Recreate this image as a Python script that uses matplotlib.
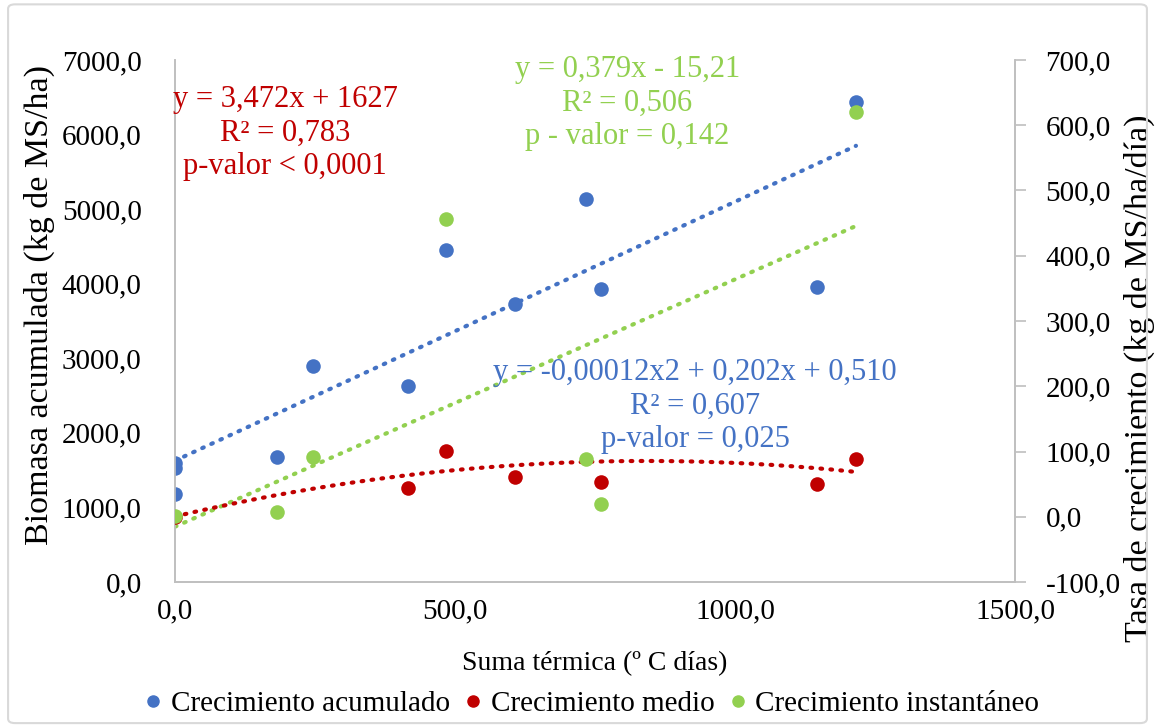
import numpy as np
import matplotlib
matplotlib.use("Agg")
import matplotlib.pyplot as plt
from matplotlib.ticker import FuncFormatter, MultipleLocator
from matplotlib.patches import FancyBboxPatch

plt.rcParams['font.family'] = ['Liberation Serif', 'DejaVu Serif']

# -------------------------
# Data
# -------------------------
# Crecimiento acumulado (left axis, kg de MS/ha)
x_acum = [0, 0, 0, 182, 246, 416, 484, 607, 734, 761, 1146, 1216]
y_acum = [1590, 1530, 1180, 1676, 2897, 2628, 4452, 3728, 5136, 3929, 3956, 6437]

# Crecimiento medio (right axis, kg de MS/ha/dia)
x_medio = [0, 416, 484, 607, 761, 1146, 1216]
y_medio = [0, 44, 101, 61, 53, 50, 88]

# Crecimiento instantaneo (right axis)
x_inst = [0, 182, 246, 484, 734, 761, 1216]
y_inst = [1, 7, 92, 456, 88, 20, 621]

# trend equations printed on the chart
lin_acum = (3.472, 1627)
lin_inst = (0.379, -15.21)
quad_medio = (-0.00012, 0.202, 0.510)

BLUE = '#4472C4'
RED = '#C00000'
GREEN = '#92D050'
GRAY = '#BFBFBF'
FS = 21


def coma(v, pos=None):
    return f"{v:.1f}".replace('.', ',')


fig = plt.figure(figsize=(11.55, 7.26), dpi=100)
ax = fig.add_axes([0.1515, 0.1983, 0.7273, 0.7191])
ax2 = ax.twinx()

# points
ax.scatter(x_acum, y_acum, s=110, color=BLUE, zorder=3, linewidths=0)
ax2.scatter(x_medio, y_medio, s=110, color=RED, zorder=3, linewidths=0)
ax2.scatter(x_inst, y_inst, s=110, color=GREEN, zorder=4, linewidths=0)

# trend lines
xt = np.linspace(0, max(x_acum), 200)
dots = dict(linestyle=(0, (0.4, 2.0)), linewidth=3.0, dash_capstyle='round')
ax.plot(xt, lin_acum[0] * xt + lin_acum[1], color=BLUE, zorder=2, **dots)
ax2.plot(xt, lin_inst[0] * xt + lin_inst[1], color=GREEN, zorder=2, **dots)
ax2.plot(xt, np.polyval(quad_medio, xt), color=RED, zorder=2, **dots)

# axes
ax.set_xlim(0, 1500)
ax.set_ylim(0, 7000)
ax2.set_ylim(-100, 700)
ax.xaxis.set_major_locator(MultipleLocator(500))
ax.yaxis.set_major_locator(MultipleLocator(1000))
ax2.yaxis.set_major_locator(MultipleLocator(100))
for a in (ax, ax2):
    a.xaxis.set_major_formatter(FuncFormatter(coma))
    a.yaxis.set_major_formatter(FuncFormatter(coma))
    for s in a.spines.values():
        s.set_color(GRAY)
        s.set_linewidth(1.2)
    a.spines['top'].set_visible(False)

ax.tick_params(axis='y', length=0, pad=24, labelsize=FS)
ax.tick_params(axis='x', length=0, pad=12, labelsize=FS)
ax2.tick_params(axis='y', length=8, color=GRAY, width=1.2, pad=14, labelsize=FS)

ax.set_xlabel('Suma térmica (º C días)', fontsize=20, labelpad=19)
ax.set_ylabel('Biomasa acumulada (kg de MS/ha)', fontsize=24.5)
ax.yaxis.set_label_coords(-0.143, 0.531)
ax2.set_ylabel('Tasa de crecimiento (kg de MS/ha/día)', fontsize=24.5)
ax2.yaxis.set_label_coords(1.13, 0.39)

# equations
fig.text(0.247, 0.817, 'y = 3,472x + 1627\nR² = 0,783\np-valor < 0,0001',
         color=RED, fontsize=22, ha='center', va='center', linespacing=1.2)
fig.text(0.543, 0.858, 'y = 0,379x - 15,21\nR² = 0,506\np - valor = 0,142',
         color=GREEN, fontsize=22, ha='center', va='center', linespacing=1.2)
fig.text(0.602, 0.441, 'y = -0,00012x2 + 0,202x + 0,510\nR² = 0,607\np-valor = 0,025',
         color=BLUE, fontsize=22, ha='center', va='center', linespacing=1.2)

# legend
handles = [plt.Line2D([], [], marker='o', linestyle='', color=c, markersize=8)
           for c in (BLUE, RED, GREEN)]
fig.legend(handles, ['Crecimiento acumulado', 'Crecimiento medio', 'Crecimiento instantáneo'],
           loc='center', bbox_to_anchor=(0.51, 0.030), ncol=3, frameon=False,
           fontsize=FS, handletextpad=0.1, columnspacing=0.3, handlelength=1.0)

# outer frame
fig.patches.append(FancyBboxPatch((0.007, 0.004), 0.986, 0.99, boxstyle='round,pad=0,rounding_size=0.006',
                                  transform=fig.transFigure, fill=False, edgecolor='#D9D9D9', linewidth=1.5))

fig.savefig('out.png', dpi=100)
